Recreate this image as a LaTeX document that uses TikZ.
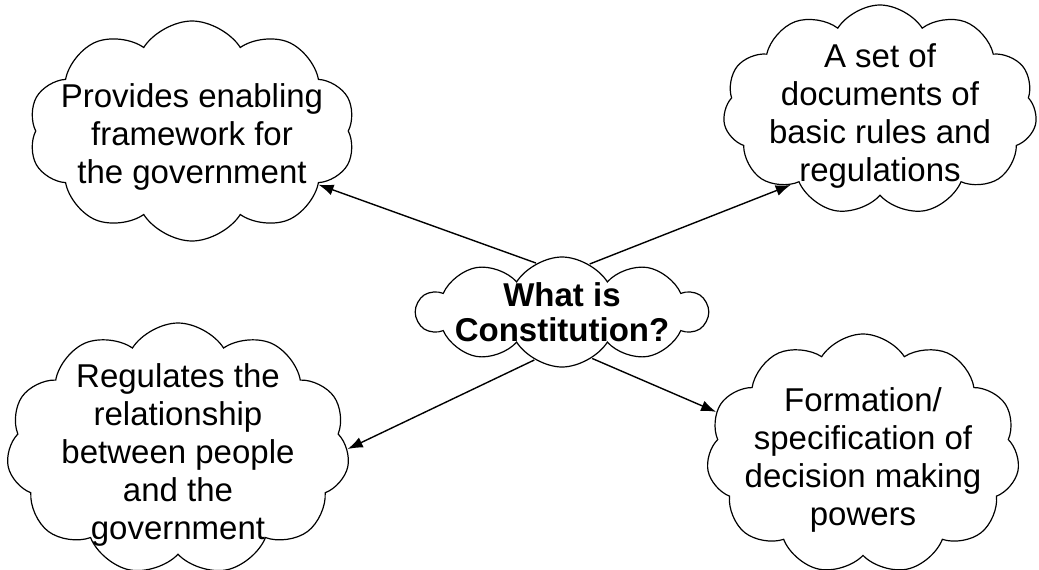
\documentclass[tikz,border=0pt]{standalone}
\usepackage{fontspec}
\setmainfont{Liberation Sans}
\usetikzlibrary{shapes.symbols,arrows.meta}

\tikzset{
  idea/.style={cloud, draw, line width=1.2pt, cloud puffs=11, cloud puff arc=115,
    cloud ignores aspect, inner sep=0pt},
  every label/.style={align=center, yshift=-6pt, font=\fontsize{33}{38}\selectfont},
  link/.style={-{Latex[length=15pt,width=11pt]}, line width=1.4pt}
}

\begin{document}
\begin{tikzpicture}[x=1pt, y=-1pt]
    \useasboundingbox (0,0) rectangle (1039,570);
    \node[idea, cloud puffs=10, minimum width=327pt, minimum height=220pt,
        label=center:{Provides enabling\\framework for\\the government}] (frame) at (192,131) {};
    \node[idea, minimum width=314pt, minimum height=210pt,
        label=center:{A set of\\documents of\\basic rules and\\regulations}] (rules) at (880,110) {};
    \node[idea, minimum width=343pt, minimum height=252pt,
        label=center:{Regulates the\\relationship\\between people\\and the\\government}] (people) at (178,449) {};
    \node[idea, minimum width=313pt, minimum height=240pt,
        label=center:{Formation/\\specification of\\decision making\\powers}] (powers) at (863,454) {};
    \node[idea, cloud puffs=10, minimum width=290pt, minimum height=110pt,
        label={[yshift=6pt, font=\fontsize{33}{35}\selectfont\bfseries]center:{What is\\Constitution?}}] (what) at (562,312) {};
    \draw[link] (what.118) -- (frame.-23);
    \draw[link] (what.60) -- (rules.220);
    \draw[link] (what.240) -- (people.0);
    \draw[link] (what.-57) -- (powers.164);
\end{tikzpicture}
\end{document}
